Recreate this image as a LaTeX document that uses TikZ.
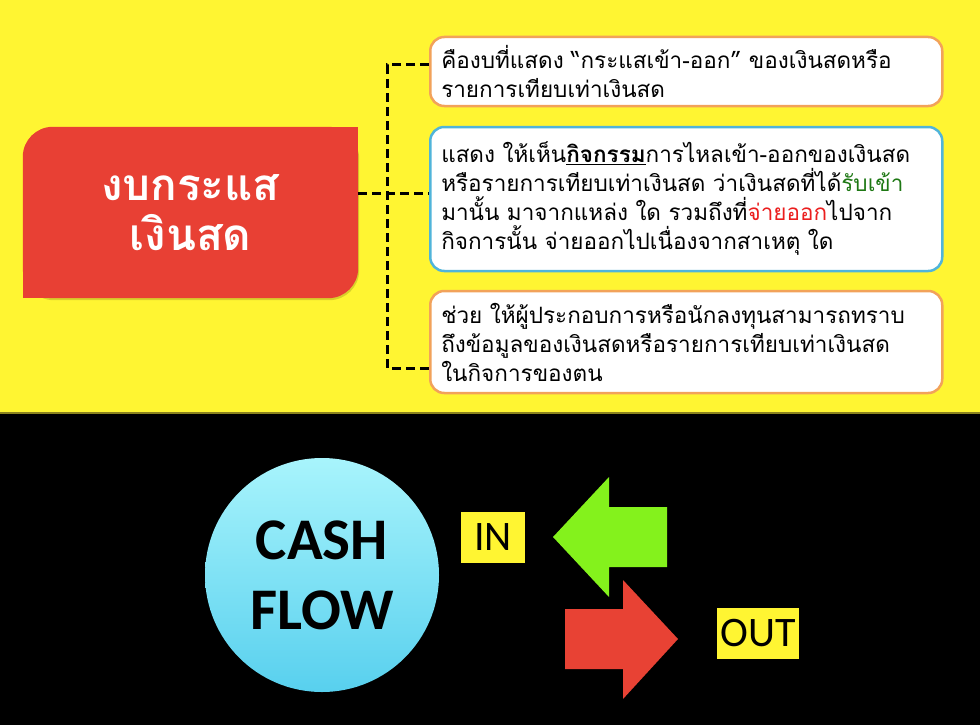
\documentclass[tikz,border=0pt]{standalone}
\usepackage{fontspec}
\usepackage{tikz}
\usetikzlibrary{backgrounds}
\usetikzlibrary{positioning,calc}
\newfontfamily\thaifont[Script=Thai]{Loma}
\newfontfamily\calib{Carlito}
\definecolor{bgyellow}{RGB}{255,245,50}
\definecolor{edgeline}{RGB}{140,132,30}
\definecolor{boxred}{RGB}{232,64,52}
\definecolor{edgeorange}{RGB}{242,162,90}
\definecolor{edgeblue}{RGB}{80,180,218}
\definecolor{ingreen}{RGB}{132,242,28}
\definecolor{outred}{RGB}{232,66,52}
\definecolor{textgreen}{RGB}{30,120,20}
\definecolor{textred}{RGB}{235,30,30}
\definecolor{cyanlight}{RGB}{168,244,252}
\definecolor{cyandark}{RGB}{88,208,238}

\begin{document}
\begin{tikzpicture}[
    x=1pt, y=-1pt,
    titlebox/.style={
        rectangle,
        minimum width=335pt,
        minimum height=171pt,
        text=white,
        align=center,
        font=\thaifont\bfseries\fontsize{44}{50}\selectfont
    },
    note/.style={
        rectangle,
        rounded corners=14pt,
        draw=edgeorange,
        line width=2.5pt,
        fill=white,
        inner xsep=11pt,
        text width=490pt,
        align=left,
        anchor=west,
        font=\thaifont\fontsize{22.5}{29}\selectfont
    },
    link/.style={
        draw=black,
        line width=3pt,
        dash pattern=on 9pt off 5pt
    },
    coin/.style={
        circle,
        minimum size=234pt,
        inner sep=0pt,
        top color=cyanlight,
        bottom color=cyandark,
        align=center,
        font=\calib\bfseries\fontsize{59}{70}\selectfont
    },
    tag/.style={
        rectangle,
        fill=bgyellow,
        minimum height=51pt,
        inner sep=0pt,
        font=\calib\fontsize{42}{42}\selectfont
    }
]
\useasboundingbox (0,0) rectangle (980,725);

% --- หัวข้อ ---
\node (title) [titlebox] at (190.5,212.5) {งบกระแส\\เงินสด};

% --- กล่องคำอธิบาย ---
\node (about) [note, minimum height=69pt] at (429,71.5)
    {คืองบที่แสดง “กระแสเข้า-ออก” ของเงินสดหรือ\\
     รายการเทียบเท่าเงินสด};
\node (show) [note, draw=edgeblue, minimum height=144pt] at (429,199)
    {แสดง ให้เห็น\underline{\textbf{กิจกรรม}}การไหลเข้า-ออกของเงินสด\\
     หรือรายการเทียบเท่าเงินสด ว่าเงินสดที่ได้\textcolor{textgreen}{รับเข้า}\\
     มานั้น มาจากแหล่ง ใด รวมถึงที่\textcolor{textred}{จ่ายออก}ไปจาก\\
     กิจการนั้น จ่ายออกไปเนื่องจากสาเหตุ ใด};
\node (owner) [note, minimum height=102pt] at (429,342)
    {ช่วย ให้ผู้ประกอบการหรือนักลงทุนสามารถทราบ\\
     ถึงข้อมูลของเงินสดหรือรายการเทียบเท่าเงินสด\\
     ในกิจการของตน};

% --- เส้นเชื่อม ---
\coordinate (trunk) at (387,193);
\coordinate (top) at (387,65);
\coordinate (bottom) at (387,368);
\draw[link] (title.east |- trunk) -- (trunk) -- (trunk -| show.west);
\draw[link] (about.west |- top) -- (top) -- (bottom) -- (bottom -| owner.west);

% --- CASH FLOW ---
\node (cashflow) [coin] at (322,575) {CASH\\FLOW};
\node (in) [tag, minimum width=64pt] at (493,537.5) {IN};
\node (out) [tag, minimum width=82pt] at (758,633.5) {OUT};

% ลูกศรเข้า-ออก
\fill[ingreen] (553,537) -- (609,477) -- (609,507) -- (667,507)
    -- (667,567) -- (609,567) -- (609,597) -- cycle;
\fill[outred] (678,639) -- (623,580) -- (623,609) -- (565,609)
    -- (565,669) -- (623,669) -- (623,699) -- cycle;

% --- พื้นหลัง ---
\begin{scope}[on background layer]
    \fill[bgyellow] (0,0) rectangle (980,413);
    \fill[black] (0,413) rectangle (980,725);
    \draw[edgeline, line width=1.5pt] (0,413) -- (980,413);
    \fill[black, opacity=0.15, rounded corners=30pt]
        ($(title.south west)+(1,2)$) rectangle ($(title.north east)+(1,2)$);
    \fill[boxred, rounded corners=30pt] (title.south west) rectangle (title.north east);
    \fill[boxred] (title.north east) rectangle ++(-40,40);
    \fill[boxred] (title.south west) rectangle ++(40,-40);
\end{scope}
\end{tikzpicture}
\end{document}
